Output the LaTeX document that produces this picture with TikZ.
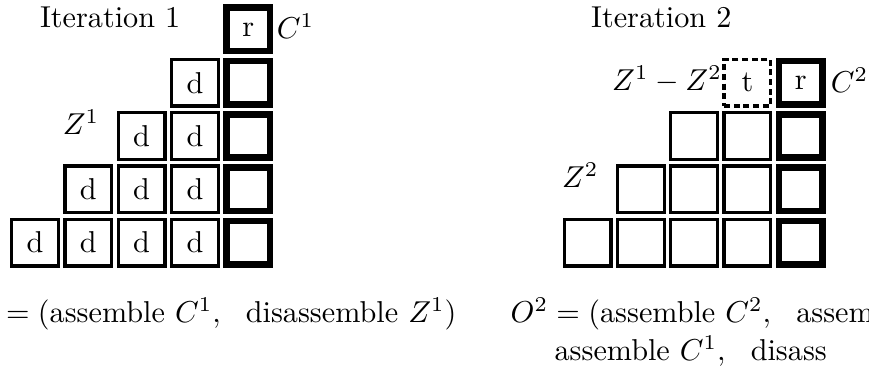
\documentclass[tikz,border=0pt]{standalone}
\usepackage{amsmath,amssymb}
\usepackage{tikz}
\usetikzlibrary{positioning}

\begin{document}
\begin{tikzpicture}[
    x=0.62cm, y=0.62cm,
    cell/.style={rectangle, draw, line width=1.1pt, minimum size=0.543cm, inner sep=0pt},
    keycell/.style={cell, line width=2.2pt, minimum size=0.505cm},
    tempcell/.style={cell, dash pattern=on 2pt off 1.2pt},
    setlabel/.style={inner sep=1pt},
    title/.style={anchor=base, inner sep=1pt},
]
    \useasboundingbox (0.343,-0.448) rectangle (16.647,-7.409);
    \clip (0.343,-0.448) rectangle (16.647,-7.409);

    % Iteration 1
    \node[title] (it1) at (2.41,-0.955) {Iteration 1};

    \node[keycell] (a15) at (5,-1) {r};
    \node[cell] (a24) at (4,-2) {d};
    \node[keycell] (a25) at (5,-2) {};
    \node[cell] (a33) at (3,-3) {d};
    \node[cell] (a34) at (4,-3) {d};
    \node[keycell] (a35) at (5,-3) {};
    \node[cell] (a42) at (2,-4) {d};
    \node[cell] (a43) at (3,-4) {d};
    \node[cell] (a44) at (4,-4) {d};
    \node[keycell] (a45) at (5,-4) {};
    \node[cell] (a51) at (1,-5) {d};
    \node[cell] (a52) at (2,-5) {d};
    \node[cell] (a53) at (3,-5) {d};
    \node[cell] (a54) at (4,-5) {d};
    \node[keycell] (a55) at (5,-5) {};

    \node[setlabel, right=0pt of a15, yshift=1pt] (c1) {$C^1$};
    \node[setlabel, left=0.16cm of a33, yshift=0.16cm] (z1) {$Z^1$};

    \node[anchor=base east, inner sep=0pt] (o1) at (8.917,-6.49)
        {$= (\text{assemble } C^1,\ \text{ disassemble } Z^1)$};

    % Iteration 2
    \node[title] (it2) at (12.75,-0.96) {Iteration 2};

    \begin{scope}[xshift=6.427cm]
        \node[tempcell] (b24) at (4,-2) {t};
        \node[keycell] (b25) at (5,-2) {r};
        \node[cell] (b33) at (3,-3) {};
        \node[cell] (b34) at (4,-3) {};
        \node[keycell] (b35) at (5,-3) {};
        \node[cell] (b42) at (2,-4) {};
        \node[cell] (b43) at (3,-4) {};
        \node[cell] (b44) at (4,-4) {};
        \node[keycell] (b45) at (5,-4) {};
        \node[cell] (b51) at (1,-5) {};
        \node[cell] (b52) at (2,-5) {};
        \node[cell] (b53) at (3,-5) {};
        \node[cell] (b54) at (4,-5) {};
        \node[keycell] (b55) at (5,-5) {};
    \end{scope}

    \node[setlabel, right=0.5pt of b25, yshift=1pt] (c2) {$C^2$};
    \node[setlabel, left=0.16cm of b42, yshift=0.16cm] (z2) {$Z^2$};
    \node[inner sep=0pt, left=0pt of b24, yshift=1pt] (dz) {$Z^1 - Z^2$};

    \node[anchor=base west, inner sep=0pt] (o2) at (9.912,-6.49)
        {$O^2 = (\text{assemble } C^2,\ \text{ assem}$};
    \node[anchor=base west, inner sep=0pt] (o2b) at (10.737,-7.203)
        {$\text{assemble } C^1,\ \text{ disass}$};
\end{tikzpicture}
\end{document}
